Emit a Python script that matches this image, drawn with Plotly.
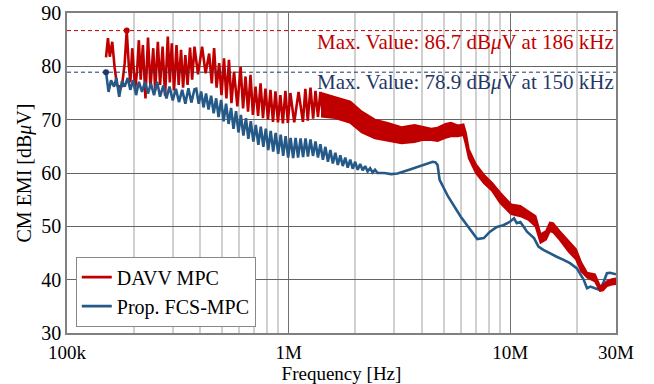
import plotly.graph_objects as go

# ---------------- data ----------------
# DAVV MPC, oscillating part (kHz, dBuV)
red_osc_khz = [150, 153, 156, 160, 164, 168, 172, 177, 182, 186, 190, 193, 197, 203, 207, 211, 215, 220,
               226, 232, 238, 245, 250, 257, 263, 270, 277, 285, 291, 297, 304, 312, 319, 327, 334, 342,
               350, 359, 367, 376, 390, 407, 422, 438, 450, 461, 473, 486, 498, 511, 524, 538, 552, 567,
               587, 607, 623, 639, 656, 673, 690, 709, 728, 747, 766, 786, 807, 828, 850, 872, 895, 918,
               942, 967, 992, 1018, 1060, 1109, 1160, 1190, 1220, 1255, 1290, 1322, 1356, 1391, 1428]
red_osc_db = [81.7, 85.3, 81.8, 84.6, 79.8, 76.5, 76.2, 76.3, 80.5, 86.7, 80.2, 77.0, 83.4, 75.8, 79.0, 84.9,
              77.5, 84.0, 74.0, 85.4, 76.0, 83.4, 75.5, 84.6, 76.5, 83.7, 74.5, 85.6, 77.0, 84.3, 75.5, 84.0,
              76.5, 83.1, 76.0, 82.1, 76.5, 83.5, 77.5, 83.7, 78.5, 83.7, 78.7, 82.4, 76.8, 83.4, 76.0, 80.6,
              74.6, 81.5, 74.0, 81.2, 73.1, 79.0, 72.5, 79.9, 72.1, 78.1, 71.5, 78.4, 70.9, 76.2, 70.7, 76.8,
              70.3, 75.8, 70.0, 75.6, 69.6, 75.3, 69.5, 74.6, 69.3, 75.4, 69.4, 75.0, 69.5, 75.2, 69.6, 75.8,
              69.8, 76.0, 70.2, 75.4, 70.5, 75.2, 70.6]

# DAVV MPC, dense part drawn as its envelope (kHz, upper dBuV, lower dBuV)
red_band_khz = [1400, 1620, 1900, 2140, 2450, 2800, 3230, 3700, 4000, 4400, 4700, 5100, 5400,
                5800, 6150, 6300, 6500, 7000, 7600, 8300, 9000, 9800, 10100, 11100, 12100, 13000, 13700,
                14500, 15100, 15600, 16700, 18300, 19800, 20900, 22200, 24100, 25400, 26200, 27300, 28700,
                30000]
red_band_hi = [75.0, 74.3, 73.4, 71.5, 70.0, 69.4, 68.6, 69.0, 68.7, 68.3, 68.5, 69.2, 69.4,
               68.9, 69.1, 67.6, 64.4, 61.6, 59.7, 58.1, 56.3, 54.6, 54.1, 53.8, 52.8, 51.9, 48.5,
               49.1, 50.7, 50.6, 49.1, 47.2, 45.7, 43.2, 41.3, 41.0, 38.8, 38.9, 39.7, 40.1, 40.2]
red_band_lo = [70.6, 70.3, 69.4, 67.6, 66.5, 66.0, 65.6, 65.8, 66.2, 66.2, 66.0, 66.6, 66.9,
               66.9, 67.1, 65.4, 62.8, 60.0, 58.1, 56.6, 54.4, 52.8, 52.3, 51.9, 51.2, 50.0, 46.9,
               47.5, 49.1, 48.9, 47.5, 45.3, 43.8, 41.6, 40.4, 39.7, 37.9, 38.0, 38.8, 39.1, 39.2]

# Prop. FCS-MPC (kHz, dBuV)
blue_khz = [150, 154, 158, 163, 167, 172, 177, 182, 188, 193, 199, 205, 211, 218, 225, 232, 239, 247, 255,
            263, 272, 281, 290, 300, 310, 320, 331, 342, 353, 364, 376, 383, 393,
            403, 413, 424, 435, 447, 459, 471, 483, 496, 509, 522, 536, 550, 564, 579, 594, 609, 625,
            642, 658, 675, 693, 711, 730, 749, 769, 789, 809, 830, 852, 874, 897, 921, 945, 969, 995,
            1021, 1048, 1075, 1103, 1132, 1162, 1192, 1222,
            1255, 1288, 1322, 1356, 1391, 1428, 1465, 1504, 1543, 1583, 1625, 1667, 1711, 1755, 1801,
            1848, 1897, 1946, 1997, 2049, 2103, 2158, 2214, 2272, 2331, 2392, 2454, 2519,
            2700, 2900, 3100, 3500, 4000, 4470, 4600, 4700, 4800, 5240, 5980, 6600, 7100, 7600, 8100,
            8700, 9300, 10000, 10400, 10700, 11100, 11500, 11900, 12800, 13400, 14100, 15100, 16200,
            17400, 18600, 20000, 21500, 22200, 23000, 24100, 25400, 26400, 27300, 28200, 30000]
blue_db = [78.9, 75.2, 77.4, 76.2, 77.8, 74.3, 77.2, 76.2, 77.8, 75.6, 77.4, 74.6, 77.1, 75.2, 77.1, 74.9,
           76.8, 74.6, 77.1, 74.3, 76.4, 74.0, 76.2, 73.6, 75.8, 73.3, 75.6, 73.0, 75.9, 73.2, 75.7, 75.8, 73.0,
           75.3, 72.3, 74.9, 71.9, 74.5, 71.2, 74.0, 70.5, 73.7, 69.7, 73.0, 69.2, 72.2, 68.3, 71.6, 67.6,
           70.9, 67.0, 70.3, 66.4, 69.7, 65.9, 69.0, 65.3, 68.7, 64.9, 68.3, 64.3, 67.9, 64.0, 67.5, 63.6,
           67.2, 63.2, 66.9, 62.9, 66.6, 62.8, 66.6, 62.9, 66.5, 63.0, 66.5, 63.1,
           66.3, 63.2, 65.9, 62.9, 65.4, 62.5, 64.9, 62.1, 64.3, 61.8, 63.8, 61.5, 63.3, 61.3, 62.9,
           61.0, 62.5, 60.8, 62.1, 60.6, 61.7, 60.5, 61.3, 60.3, 60.9, 60.1, 60.6, 60.0,
           60.0, 59.8, 59.9, 60.6, 61.5, 62.1, 62.0, 61.5, 58.7, 55.6, 51.8, 49.3, 47.6, 47.8, 49.0,
           49.9, 50.2, 50.9, 51.5, 50.6, 50.8, 49.9, 49.0, 47.8, 46.2, 45.6, 44.9, 44.3,
           43.7, 43.1, 42.1, 39.9, 38.4, 38.7, 38.4, 38.1, 39.6, 41.2, 41.3, 41.0]

red_max_khz, red_max_db = 186, 86.7
blue_max_khz, blue_max_db = 150, 78.9

x_tick_vals = [1e5, 1e6, 1e7, 3e7]
x_tick_text = ["100k", "1M", "10M", "30M"]
x_minor_vals = [2e5, 3e5, 4e5, 5e5, 6e5, 7e5, 8e5, 9e5,
                2e6, 3e6, 4e6, 5e6, 6e6, 7e6, 8e6, 9e6, 2e7]
y_tick_vals = [30, 40, 50, 60, 70, 80, 90]

RED = "#C00000"
BLUE = "#255A88"
NAVY = "#1F3868"
FONT = "Liberation Serif"
FS = 21

# ---------------- figure ----------------
fig = go.Figure()

hz = lambda lst: [v * 1e3 for v in lst]

# red oscillating part (legend entry)
fig.add_trace(go.Scatter(x=hz(red_osc_khz), y=red_osc_db, mode="lines", name="DAVV MPC",
                         line=dict(color=RED, width=2.6)))
# blue
fig.add_trace(go.Scatter(x=hz(blue_khz), y=blue_db, mode="lines", name="Prop. FCS-MPC",
                         line=dict(color=BLUE, width=2.6)))
# red dense band (envelope)
fig.add_trace(go.Scatter(x=hz(red_band_khz), y=red_band_lo, mode="lines",
                         line=dict(color=RED, width=2), showlegend=False, hoverinfo="skip"))
fig.add_trace(go.Scatter(x=hz(red_band_khz), y=red_band_hi, mode="lines", fill="tonexty",
                         fillcolor=RED, line=dict(color=RED, width=2), showlegend=False,
                         hoverinfo="skip"))

# max markers
fig.add_trace(go.Scatter(x=[red_max_khz * 1e3], y=[red_max_db], mode="markers",
                         marker=dict(color=RED, size=6), showlegend=False))
fig.add_trace(go.Scatter(x=[blue_max_khz * 1e3], y=[blue_max_db], mode="markers",
                         marker=dict(color=NAVY, size=6), showlegend=False))

# dashed max lines
fig.add_shape(type="line", xref="paper", yref="y", x0=0, x1=1, y0=red_max_db, y1=red_max_db,
              line=dict(color=RED, width=1, dash="4px,3px"), layer="above")
fig.add_shape(type="line", xref="paper", yref="y", x0=0, x1=1, y0=blue_max_db, y1=blue_max_db,
              line=dict(color=NAVY, width=1, dash="4px,3px"), layer="above")

fig.add_annotation(xref="paper", yref="y", x=1, y=red_max_db - 2.1, xanchor="right", yanchor="middle",
                   text=f"Max. Value: {red_max_db} dB<i>μ</i>V at {red_max_khz} kHz",
                   showarrow=False, font=dict(family=FONT, size=FS, color=RED))
fig.add_annotation(xref="paper", yref="y", x=1, y=blue_max_db - 1.8, xanchor="right", yanchor="middle",
                   text=f"Max. Value: {blue_max_db} dB<i>μ</i>V at {blue_max_khz} kHz",
                   showarrow=False, font=dict(family=FONT, size=FS, color=NAVY))

fig.update_layout(
    width=654, height=384,
    margin=dict(l=67, r=38, t=13, b=51, autoexpand=False),
    paper_bgcolor="white", plot_bgcolor="white",
    font=dict(family=FONT, size=FS, color="black"),
    legend=dict(x=0.016, y=0.02, xanchor="left", yanchor="bottom", traceorder="normal",
                bgcolor="white", bordercolor="#888888", borderwidth=1,
                font=dict(family=FONT, size=20, color="black"),
                tracegroupgap=0, itemwidth=30),
    showlegend=True,
)

fig.update_xaxes(
    type="log", range=[5, 7.4771], automargin=False,
    tickmode="array", tickvals=x_tick_vals, ticktext=x_tick_text,
    ticks="", showgrid=True, gridcolor="#707070", gridwidth=1.2,
    minor=dict(tickmode="array", tickvals=x_minor_vals, showgrid=True,
               gridcolor="#d0d0d0", gridwidth=1.5, ticks=""),
    showline=True, linecolor="#808080", linewidth=1.5, mirror=True,
    zeroline=False, ticklabelstandoff=1,
    tickfont=dict(family=FONT, size=19, color="black"),
    title=dict(text="Frequency [Hz]", font=dict(family=FONT, size=19, color="black"), standoff=6),
)
fig.update_yaxes(
    range=[30, 90], tickmode="array", tickvals=y_tick_vals, automargin=False,
    ticks="", showgrid=True, gridcolor="#646464", gridwidth=1,
    showline=True, linecolor="#808080", linewidth=1.5, mirror=True,
    zeroline=False,
    tickfont=dict(family=FONT, size=20, color="black"),
    title=dict(text="CM EMI [dB<i>μ</i>V]", font=dict(family=FONT, size=20, color="black"), standoff=4),
)

fig.write_html("out.html")
